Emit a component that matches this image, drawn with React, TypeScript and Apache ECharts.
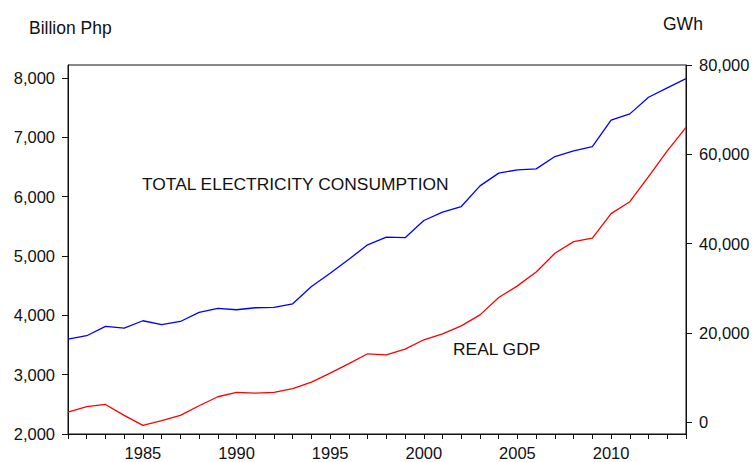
import React, { useEffect, useRef } from "react";
import * as echarts from "echarts";

// Years 1981–2014
const years: string[] = [
  "1981", "1982", "1983", "1984", "1985", "1986", "1987", "1988", "1989", "1990",
  "1991", "1992", "1993", "1994", "1995", "1996", "1997", "1998", "1999", "2000",
  "2001", "2002", "2003", "2004", "2005", "2006", "2007", "2008", "2009", "2010",
  "2011", "2012", "2013", "2014",
];

// Real GDP, billion Php (left axis)
const realGdp: number[] = [
  2370, 2460, 2498, 2313, 2145, 2224, 2313, 2476, 2628, 2700,
  2690, 2700, 2763, 2875, 3025, 3187, 3352, 3335, 3431, 3588,
  3689, 3823, 4008, 4300, 4497, 4732, 5047, 5243, 5300, 5714,
  5916, 6337, 6774, 7168,
];

// Total electricity consumption, GWh (right axis)
const electricity: number[] = [
  18660, 19400, 21480, 21120, 22750, 21860, 22590, 24610, 25500, 25210,
  25660, 25730, 26550, 30400, 33400, 36510, 39750, 41470, 41350, 45190,
  47060, 48320, 52950, 55790, 56530, 56750, 59500, 60780, 61740, 67650,
  69060, 72790, 74870, 76950,
];

const labelYears = ["1985", "1990", "1995", "2000", "2005", "2010"];
const leftTicks = [2000, 3000, 4000, 5000, 6000, 7000, 8000];
const rightTicks = [0, 20000, 40000, 60000, 80000];

const FONT = "'Liberation Sans', Arial, Helvetica, sans-serif";
const fmt = (v: number) => Number(v).toLocaleString("en-US");

export default function App() {
  const ref = useRef<HTMLDivElement>(null);

  useEffect(() => {
    document.body.style.margin = "0";
    if (!ref.current) return;
    const chart = echarts.init(ref.current, null, { renderer: "svg" });
    const axisLine = { show: true, onZero: false, lineStyle: { color: "#111", width: 1 } };
    const labelStyle = { color: "#111", fontFamily: FONT, fontSize: 16.5 };

    chart.setOption({
      animation: false,
      backgroundColor: "#fff",
      grid: {
        left: 68,
        right: 68,
        top: 65,
        bottom: 28,
        show: true,
        borderColor: "#111",
        borderWidth: 1,
        backgroundColor: "transparent",
      },
      xAxis: {
        type: "category",
        data: years,
        boundaryGap: false,
        axisLine,
        axisTick: { show: true, inside: false, length: 5, interval: 0, lineStyle: { color: "#111" } },
        axisLabel: {
          ...labelStyle,
          margin: 10,
          interval: (_i: number, v: string) => labelYears.includes(v),
        },
        splitLine: { show: false },
      },
      yAxis: [
        {
          type: "value",
          position: "left",
          min: 2000,
          max: 8220,
          axisLine,
          axisTick: { show: true, length: 6, customValues: leftTicks, lineStyle: { color: "#111" } },
          axisLabel: { ...labelStyle, margin: 13, customValues: leftTicks, formatter: fmt },
          splitLine: { show: false },
        },
        {
          type: "value",
          position: "right",
          min: -2600,
          max: 80000,
          axisLine,
          axisTick: { show: true, length: 6, customValues: rightTicks, lineStyle: { color: "#111" } },
          axisLabel: { ...labelStyle, margin: 13, customValues: rightTicks, formatter: fmt },
          splitLine: { show: false },
        },
      ],
      series: [
        {
          name: "TOTAL ELECTRICITY CONSUMPTION",
          type: "line",
          yAxisIndex: 1,
          data: electricity,
          symbol: "none",
          lineStyle: { color: "#0000ff", width: 1.3 },
          itemStyle: { color: "#0000ff" },
        },
        {
          name: "REAL GDP",
          type: "line",
          yAxisIndex: 0,
          data: realGdp,
          symbol: "none",
          lineStyle: { color: "#ff0000", width: 1.3 },
          itemStyle: { color: "#ff0000" },
        },
      ],
      graphic: [
        {
          type: "text",
          left: 29,
          top: 19,
          style: { text: "Billion Php", fill: "#111", font: `17.5px ${FONT}` },
        },
        {
          type: "text",
          left: 663,
          top: 15,
          style: { text: "GWh", fill: "#111", font: `17.5px ${FONT}` },
        },
        {
          type: "text",
          left: 142,
          top: 175,
          style: { text: "TOTAL ELECTRICITY CONSUMPTION", fill: "#111", font: `17.4px ${FONT}` },
        },
        {
          type: "text",
          left: 453,
          top: 340,
          style: { text: "REAL GDP", fill: "#111", font: `17.4px ${FONT}` },
        },
      ],
    });

    return () => chart.dispose();
  }, []);

  return <div ref={ref} style={{ width: 754, height: 462 }} />;
}
